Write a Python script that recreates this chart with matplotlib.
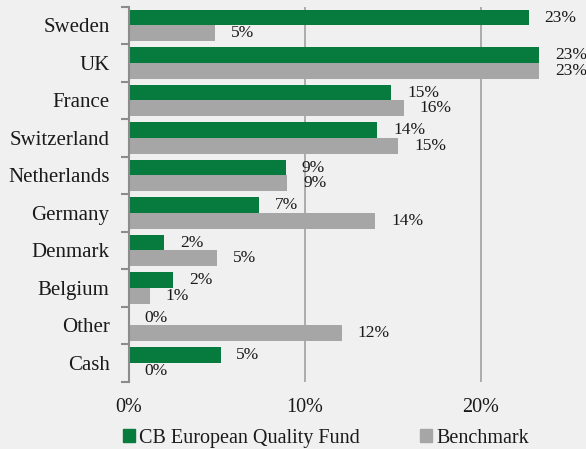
import matplotlib
matplotlib.use("Agg")
import matplotlib.pyplot as plt
import numpy as np
from matplotlib.patches import Patch

countries = ["Sweden", "UK", "France", "Switzerland", "Netherlands",
             "Germany", "Denmark", "Belgium", "Other", "Cash"]
fund = [22.7, 23.3, 14.9, 14.1, 8.9, 7.4, 2.0, 2.5, 0.0, 5.2]
benchmark = [4.9, 23.3, 15.6, 15.3, 9.0, 14.0, 5.0, 1.2, 12.1, 0.0]
fund_labels = ["23%", "23%", "15%", "14%", "9%", "7%", "2%", "2%", "0%", "5%"]
bench_labels = ["5%", "23%", "16%", "15%", "9%", "14%", "5%", "1%", "12%", "0%"]
xticks = [0, 10, 20]
xtick_labels = ["0%", "10%", "20%"]

GREEN = "#077a3d"
GREY = "#a6a6a6"
BG = "#f0f0f0"
TEXT = "#1a1a1a"

plt.rcParams["font.family"] = ["Liberation Serif", "DejaVu Serif"]

fig = plt.figure(figsize=(5.86, 4.49), dpi=100, facecolor=BG)
ax = fig.add_axes([0.2201, 0.150, 0.751, 0.835], facecolor=BG)

n = len(countries)
y = np.arange(n)
h = 0.42
ax.barh(y - h / 2, fund, height=h, color=GREEN, zorder=3)
ax.barh(y + h / 2, benchmark, height=h, color=GREY, zorder=3)

# value labels, a fixed offset past the bar end
off = 0.9
for i in range(n):
    ax.text(fund[i] + off, y[i] - h / 2, fund_labels[i], va="center", ha="left",
            fontsize=12.5, color=TEXT)
    ax.text(benchmark[i] + off, y[i] + h / 2, bench_labels[i], va="center", ha="left",
            fontsize=12.5, color=TEXT)

ax.set_xlim(0, 25)
ax.set_ylim(n - 0.5, -0.5)

ax.set_xticks(xticks)
ax.set_xticklabels(xtick_labels, fontsize=14.5, color=TEXT)
ax.tick_params(axis="x", length=0, pad=12)
ax.xaxis.grid(True, color="#a6a6a6", linewidth=1.3, zorder=0)

ax.set_yticks(y)
ax.set_yticklabels(countries, fontsize=15, color=TEXT)
ax.set_yticks(np.arange(n + 1) - 0.5, minor=True)
ax.tick_params(axis="y", which="major", length=0, pad=14)
ax.tick_params(axis="y", which="minor", length=6, width=1.5, color="#8c8c8c")

for s in ["top", "right", "bottom"]:
    ax.spines[s].set_visible(False)
ax.spines["left"].set_color("#8c8c8c")
ax.spines["left"].set_linewidth(1.5)
ax.spines["left"].set_zorder(4)

handles = [Patch(color=GREEN, label="CB European Quality Fund"),
           Patch(color=GREY, label="Benchmark")]
fig.legend(handles=handles, loc="center", bbox_to_anchor=(0.556, 0.024), ncol=2,
           frameon=False, fontsize=14.5, handlelength=0.6, handleheight=0.6,
           handletextpad=0.2, columnspacing=3.0, labelcolor=TEXT)

fig.savefig("out.png", dpi=100, facecolor=BG)
